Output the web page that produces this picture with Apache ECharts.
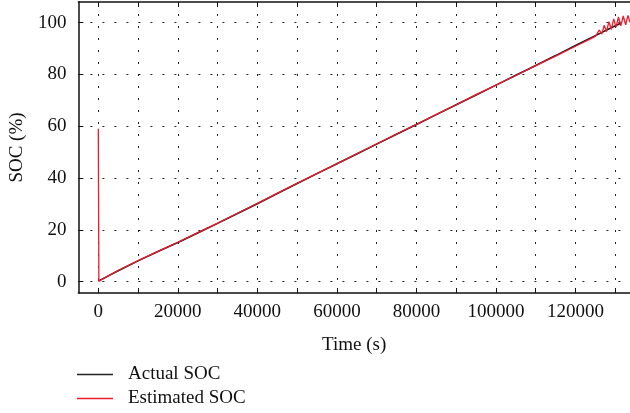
<!DOCTYPE html>
<html>
<head>
<meta charset="utf-8">
<script src="https://cdn.jsdelivr.net/npm/echarts@6/dist/echarts.min.js"></script>
<style>
html,body{margin:0;padding:0;background:#fff;}
#c{width:630px;height:413px;}
</style>
</head>
<body>
<div id="c"></div>
<script>
// ---- data ----
const actualTime = [0, 5000, 10000, 15000, 20000, 25000, 30000, 35000, 40000, 45000, 50000, 55000, 60000, 65000, 70000, 75000, 80000, 85000, 90000, 95000, 100000, 105000, 110000, 115000, 120000, 125000, 130000, 131500];
const actualSOC  = [0.2, 4.2, 8.0, 11.6, 15.1, 18.8, 22.5, 26.3, 30.1, 34.0, 37.9, 41.7, 45.5, 49.3, 53.1, 56.9, 60.7, 64.5, 68.3, 72.1, 75.9, 79.7, 83.5, 87.3, 91.2, 95.0, 98.8, 99.9];

const estTime = [0, 150, 5000, 10000, 15000, 20000, 25000, 30000, 35000, 40000, 45000, 50000, 55000, 60000, 65000, 70000, 75000, 80000, 85000, 90000, 95000, 100000, 105000, 110000, 115000, 120000, 123000, 125000, 126000, 126600, 127200, 127800, 128400, 129000, 129600, 130200, 130800, 131400, 132000, 132600, 133200, 133700];
const estSOC  = [59.0, 0.2, 4.3, 8.1, 11.7, 15.2, 18.9, 22.6, 26.4, 30.2, 34.1, 38.0, 41.8, 45.5, 49.4, 53.2, 57.0, 60.7, 64.6, 68.3, 72.2, 75.9, 79.6, 83.4, 87.1, 90.9, 93.2, 94.7, 97.2, 95.6, 99.0, 96.6, 100.4, 97.4, 101.5, 98.3, 102.2, 98.8, 102.6, 99.2, 102.8, 100.2];

const xTickValues  = [0, 10000, 20000, 30000, 40000, 50000, 60000, 70000, 80000, 90000, 100000, 110000, 120000, 130000];
const xLabelValues = [0, 20000, 40000, 60000, 80000, 100000, 120000];
const yTickValues  = [0, 20, 40, 60, 80, 100];

const seriesNames = ['Actual SOC', 'Estimated SOC'];
const xTitle = 'Time (s)';
const yTitle = 'SOC (%)';

// ---- chart ----
const FONT = '"Liberation Serif", "DejaVu Serif", serif';
const toPairs = (xs, ys) => xs.map((x, i) => [x, ys[i]]);
const chart = echarts.init(document.getElementById('c'), null, {renderer: 'canvas'});

const gridLine = {show: true, lineStyle: {color: '#222', type: [2, 10], width: 1}};
const TXT = {fontSize: 19, color: '#111', fontFamily: FONT};

chart.setOption({
  animation: false,
  backgroundColor: '#fff',
  textStyle: {fontFamily: FONT},
  grid: {left: 77, right: -1, top: 2, bottom: 120, containLabel: false},
  legend: {
    orient: 'vertical', left: 72, top: 360, itemGap: 5,
    itemWidth: 36, itemHeight: 1.5, icon: 'rect',
    textStyle: Object.assign({}, TXT, {padding: [0, 0, 0, 10]}),
    data: seriesNames
  },
  xAxis: [{
    type: 'value', min: -5000, max: 133700, position: 'bottom',
    axisLine: {show: true, onZero: false, lineStyle: {color: '#111', width: 1.5}},
    axisTick: {show: true, inside: true, length: 5, customValues: xTickValues, lineStyle: {color: '#111'}},
    axisLabel: Object.assign({show: true, customValues: xLabelValues, margin: 10, formatter: v => String(v)}, TXT),
    splitLine: gridLine,
    name: xTitle, nameLocation: 'middle', nameGap: 43,
    nameTextStyle: TXT
  }, {
    type: 'value', min: -5000, max: 133700, position: 'top',
    axisLine: {show: true, onZero: false, lineStyle: {color: '#111', width: 1.5}},
    axisTick: {show: true, inside: true, length: 5, customValues: xTickValues, lineStyle: {color: '#111'}},
    axisLabel: {show: false},
    splitLine: {show: false}
  }],
  yAxis: [{
    type: 'value', min: -4.4, max: 108,
    axisLine: {show: true, onZero: false, lineStyle: {color: '#111', width: 1.5}},
    axisTick: {show: true, inside: true, length: 5, customValues: yTickValues, lineStyle: {color: '#111'}},
    axisLabel: Object.assign({show: true, customValues: yTickValues, margin: 12, formatter: v => String(v)}, TXT),
    splitLine: gridLine,
    name: yTitle, nameLocation: 'middle', nameGap: 50,
    nameTextStyle: TXT
  }],
  series: [{
    name: seriesNames[0], type: 'line', symbol: 'none', showSymbol: false,
    data: toPairs(actualTime, actualSOC),
    lineStyle: {color: '#111', width: 1.6}, itemStyle: {color: '#222'}, z: 2
  }, {
    name: seriesNames[1], type: 'line', symbol: 'none', showSymbol: false,
    data: toPairs(estTime, estSOC),
    lineStyle: {color: '#ec1c2c', width: 1.3}, itemStyle: {color: '#ec1c2c'}, z: 3
  }]
});
</script>
</body>
</html>
